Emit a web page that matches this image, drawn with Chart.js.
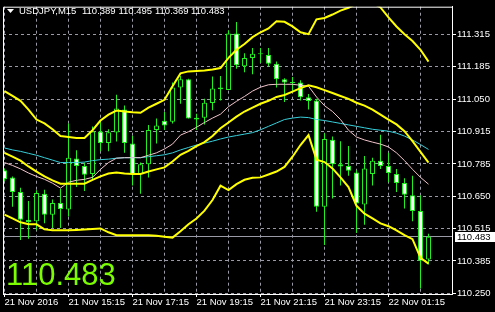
<!DOCTYPE html>
<html><head><meta charset="utf-8">
<script src="https://cdn.jsdelivr.net/npm/chart.js@4.4.1/dist/chart.umd.min.js"></script>
<style>html,body{margin:0;padding:0;background:#000;overflow:hidden}canvas{display:block}</style>
</head><body>
<canvas id="c" width="495" height="312"></canvas>
<script>
// ---- data ----
const symbolTitle = 'USDJPY,M15';
const opens = [110.756,110.727,110.667,110.553,110.546,110.660,110.573,110.622,110.595,110.805,
110.774,110.741,110.916,110.868,110.912,111.006,110.866,110.741,110.781,110.922,
110.960,110.956,111.097,111.131,110.965,110.972,111.033,111.090,111.087,111.319,
111.184,111.218,111.234,111.231,111.194,111.131,111.117,111.117,111.057,111.043,
110.606,110.882,110.781,110.774,110.747,110.615,110.741,110.795,110.774,110.741,
110.704,110.653,110.589,110.389];
const highs = [110.764,110.731,110.684,110.630,110.674,110.676,110.636,110.680,110.949,110.839,
110.788,110.936,110.962,110.925,111.067,111.023,110.898,110.788,110.942,110.969,
110.996,111.117,111.144,111.133,110.989,111.050,111.142,111.144,111.332,111.366,
111.238,111.259,111.259,111.259,111.204,111.135,111.140,111.127,111.070,111.050,
110.909,110.895,110.876,110.856,110.756,110.815,110.808,110.902,110.828,110.761,
110.723,110.734,110.653,110.495];
const lows = [110.711,110.606,110.469,110.474,110.509,110.538,110.519,110.519,110.566,110.687,
110.671,110.720,110.835,110.835,110.875,110.828,110.694,110.660,110.727,110.866,
110.922,110.949,111.030,110.969,110.922,110.945,111.003,111.043,111.087,111.174,
111.160,111.151,111.198,111.184,111.097,111.037,111.083,111.043,111.006,110.586,
110.449,110.640,110.694,110.734,110.498,110.532,110.694,110.761,110.707,110.667,
110.599,110.546,110.270,110.369];
const closes = [110.719,110.667,110.553,110.543,110.663,110.573,110.622,110.597,110.808,110.774,
110.738,110.916,110.868,110.913,111.010,110.868,110.741,110.781,110.922,110.940,
110.940,111.097,111.131,110.969,110.972,111.034,111.093,111.097,111.319,111.188,
111.218,111.236,111.238,111.194,111.131,111.117,111.115,111.057,111.041,110.606,
110.885,110.781,110.772,110.754,110.620,110.764,110.795,110.774,110.745,110.704,
110.656,110.589,110.384,110.483];
const bbUpper = [111.082,111.062,111.042,111.006,110.965,110.949,110.925,110.897,110.893,110.889,
110.889,110.921,110.961,110.985,111.002,110.998,110.995,110.993,111.014,111.030,
111.046,111.102,111.155,111.163,111.165,111.167,111.171,111.177,111.219,111.252,
111.276,111.304,111.324,111.340,111.369,111.367,111.348,111.324,111.316,111.377,
111.383,111.397,111.413,111.425,111.441,111.449,111.445,111.426,111.385,111.348,
111.316,111.288,111.252,111.203];
const bbMiddle = [110.828,110.812,110.796,110.772,110.751,110.731,110.715,110.701,110.701,110.701,
110.701,110.717,110.731,110.743,110.747,110.743,110.741,110.741,110.751,110.760,
110.768,110.792,110.820,110.836,110.856,110.872,110.897,110.929,110.953,110.977,
110.998,111.014,111.030,111.042,111.058,111.066,111.080,111.094,111.106,111.098,
111.086,111.074,111.062,111.050,111.034,111.022,111.006,110.985,110.965,110.945,
110.917,110.876,110.832,110.788];
const bbLower = [110.574,110.558,110.542,110.534,110.534,110.513,110.509,110.509,110.509,110.511,
110.513,110.515,110.517,110.501,110.489,110.489,110.489,110.489,110.489,110.487,
110.483,110.479,110.505,110.534,110.558,110.590,110.634,110.693,110.675,110.699,
110.717,110.725,110.727,110.739,110.751,110.770,110.812,110.860,110.901,110.800,
110.790,110.764,110.727,110.687,110.610,110.578,110.558,110.538,110.526,110.509,
110.489,110.473,110.396,110.372];
const maSlow = [110.848,110.840,110.834,110.826,110.818,110.808,110.798,110.788,110.788,110.788,
110.790,110.796,110.800,110.802,110.806,110.808,110.808,110.808,110.812,110.816,
110.820,110.828,110.840,110.850,110.860,110.868,110.876,110.885,110.893,110.899,
110.905,110.911,110.923,110.937,110.951,110.965,110.971,110.975,110.973,110.965,
110.961,110.955,110.949,110.943,110.937,110.931,110.925,110.921,110.917,110.909,
110.897,110.881,110.862,110.842];
const maFast = [110.788,110.776,110.762,110.745,110.731,110.719,110.703,110.683,110.707,110.715,
110.719,110.727,110.760,110.788,110.806,110.808,110.808,110.808,110.818,110.828,
110.844,110.864,110.901,110.915,110.933,110.953,110.971,110.987,111.018,111.040,
111.060,111.082,111.098,111.108,111.110,111.110,111.110,111.106,111.102,111.058,
111.022,110.998,110.965,110.921,110.893,110.881,110.872,110.864,110.852,110.828,
110.796,110.760,110.727,110.699];
const xTickLabels = ['21 Nov 2016','21 Nov 15:15','21 Nov 17:15','21 Nov 19:15','21 Nov 21:15','21 Nov 23:15','22 Nov 01:15'];
const barsPerLabel = 8;
const barsPerGrid = 4;
const yTickLabels = ['110.250','110.385','110.515','110.650','110.785','110.915','111.050','111.185','111.315'];

// ---- styles ----
const GREEN = '#22ee22';
const GRID = '#9a9aa6';
const FONT = 'Liberation Sans, Arial, sans-serif';
const n = closes.length;
const last = n - 1;
const lastOHLC = [opens[last], highs[last], lows[last], closes[last]];

const bodies = opens.map((o, i) => ({x: i, y: [o, closes[i]]}));
const wicks = lows.map((l, i) => ({x: i, y: [l, highs[i]]}));
const pts = arr => arr.map((v, i) => ({x: i, y: v}));

const yFirst = parseFloat(yTickLabels[0]);
const yLast = parseFloat(yTickLabels[yTickLabels.length - 1]);
const yStep = (yLast - yFirst) / (yTickLabels.length - 1);

const lineDs = (label, arr, color, w) => ({
  type: 'line', label, data: pts(arr), borderColor: color, borderWidth: w,
  pointRadius: 0, tension: 0, fill: false, order: 0, clip: 0
});

const overlay = {
  id: 'overlay',
  beforeDraw(chart) {
    const c = chart.ctx;
    c.save(); c.fillStyle = '#000'; c.fillRect(0, 0, chart.width, chart.height); c.restore();
  },
  beforeDatasetsDraw(chart) {
    const {ctx: c, chartArea: a, scales: {y}} = chart;
    const py = Math.floor(y.getPixelForValue(closes[last])) + 0.5;
    c.save();
    c.strokeStyle = GRID; c.lineWidth = 1;
    c.beginPath(); c.moveTo(a.left, py); c.lineTo(a.right, py); c.stroke();
    c.restore();
  },
  afterDraw(chart) {
    const {ctx: c, chartArea: a, scales: {y}} = chart;
    c.save();
    // frame left / top
    c.strokeStyle = '#fff'; c.lineWidth = 1;
    c.beginPath();
    c.moveTo(a.left + 0.5, a.bottom); c.lineTo(a.left + 0.5, a.top + 0.5); c.lineTo(a.right, a.top + 0.5);
    c.stroke();
    // title
    c.fillStyle = '#fff';
    c.beginPath(); c.moveTo(7, 9); c.lineTo(14, 9); c.lineTo(10.5, 13); c.closePath(); c.fill();
    c.font = '9.5px ' + FONT; c.textBaseline = 'alphabetic'; c.textAlign = 'left';
    c.fillText(symbolTitle, 19, 14);
    const xs = [82, 118.5, 155, 191];
    lastOHLC.forEach((v, k) => c.fillText(v.toFixed(3), xs[k], 14));
    // big price
    c.fillStyle = '#7cfc00';
    c.font = '31px ' + FONT;
    c.fillText(closes[last].toFixed(3), 6, 285);
    // price label box
    const py = Math.floor(y.getPixelForValue(closes[last])) + 0.5;
    c.fillStyle = '#fff';
    c.fillRect(455, Math.round(py - 4.5), 40, 10);
    c.fillStyle = '#000';
    c.font = '9.5px ' + FONT; c.textBaseline = 'middle';
    c.fillText(closes[last].toFixed(3), 457, py + 0.5);
    c.restore();
  }
};

new Chart(document.getElementById('c'), {
  type: 'bar',
  data: {datasets: [
    lineDs('BB upper', bbUpper, '#ffff00', 2),
    lineDs('BB middle', bbMiddle, '#ffff00', 2),
    lineDs('BB lower', bbLower, '#ffff00', 2),
    lineDs('MA fast', maFast, '#f2c4cc', 1),
    lineDs('MA slow', maSlow, '#35d0dc', 1),
    {type: 'bar', label: 'bodies', data: bodies,
     backgroundColor: ctx => closes[ctx.dataIndex] >= opens[ctx.dataIndex] ? '#000' : '#fff',
     borderColor: GREEN, borderWidth: 1, borderSkipped: false, barThickness: 5,
     grouped: false, inflateAmount: 0, minBarLength: 1, order: 1},
    {type: 'bar', label: 'wicks', data: wicks, backgroundColor: GREEN, borderWidth: 0,
     barThickness: 1, grouped: false, inflateAmount: 0, order: 2}
  ]},
  options: {
    responsive: false, animation: false, devicePixelRatio: 1,
    layout: {padding: {left: 3, top: 1, right: 0, bottom: 0}},
    plugins: {legend: {display: false}, tooltip: {enabled: false}, title: {display: false}},
    events: [],
    scales: {
      x: {
        type: 'linear', position: 'bottom', min: -0.1875, max: 55.9375, offset: false, bounds: 'data',
        afterFit(s) { s.height = 18; },
        afterBuildTicks(s) {
          const t = [];
          for (let v = 0; v < s.max - 1; v += barsPerGrid) t.push({value: v});
          s.ticks = t;
        },
        ticks: {
          autoSkip: false, maxRotation: 0, minRotation: 0, align: 'start', padding: 0,
          color: '#fff', font: {family: FONT, size: 9.5},
          callback: v => (v % barsPerLabel === 0 ? (xTickLabels[v / barsPerLabel] || '') : '')
        },
        grid: {
          offset: false, color: GRID, lineWidth: 1, tickLength: 3,
          tickColor: ctx => (ctx.tick && ctx.tick.value % barsPerLabel === 0 ? '#fff' : 'rgba(0,0,0,0)')
        },
        border: {color: '#fff', width: 1, dash: [3, 3]}
      },
      y: {
        type: 'linear', position: 'right', min: 110.2472, max: 111.4292, beginAtZero: false, bounds: 'data',
        afterFit(s) { s.width = 43; },
        afterBuildTicks(s) { s.ticks = yTickLabels.map((t, k) => ({value: yFirst + k * yStep})); },
        ticks: {
          autoSkip: false, padding: 1, color: '#fff', font: {family: FONT, size: 9.5},
          callback: (v, idx) => yTickLabels[idx]
        },
        grid: {color: GRID, lineWidth: 1, tickLength: 4, tickColor: '#fff'},
        border: {color: '#fff', width: 1, dash: [3, 3]}
      }
    }
  },
  plugins: [overlay]
});
</script>
</body></html>
